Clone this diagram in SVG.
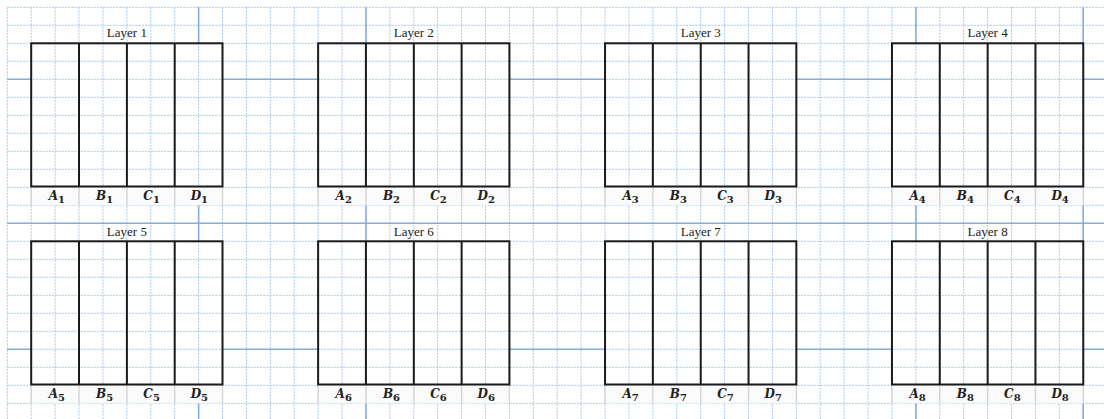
<svg xmlns="http://www.w3.org/2000/svg" width="1104" height="419" viewBox="0 0 1104 419">
<style>
.minor{fill:none;stroke:#a3c7ed;stroke-width:1;stroke-dasharray:2 1.2}
.major{fill:none;stroke:#86aedc;stroke-width:1.6}
.band{fill:#fbfbfb;stroke:none}
.bandsep{fill:none;stroke:#d6d6d6;stroke-width:1.5}
.box{fill:none;stroke:#1a1a1a;stroke-width:2}
.div{fill:none;stroke:#1a1a1a;stroke-width:2}
.title{font-family:"Liberation Serif",serif;font-size:13px;fill:#222;text-anchor:middle}
.lab{font-family:"DejaVu Serif","Liberation Serif",serif;font-size:12px;font-weight:bold;font-style:italic;fill:#222;text-anchor:middle}
.sub{font-size:10px;font-style:normal}
</style>
<rect x="0" y="0" width="1104" height="419" fill="#ffffff"/>
<g id="grid">
<path class="minor" d="M7.3 7.3V419M31.2 7.3V419M55.1 7.3V419M79 7.3V419M103 7.3V419M126.9 7.3V419M150.8 7.3V419M174.7 7.3V419M198.6 7.3V419M222.5 7.3V419M246.4 7.3V419M270.3 7.3V419M294.2 7.3V419M318.1 7.3V419M342 7.3V419M366 7.3V419M389.9 7.3V419M413.8 7.3V419M437.7 7.3V419M461.6 7.3V419M485.5 7.3V419M509.4 7.3V419M533.3 7.3V419M557.2 7.3V419M581.1 7.3V419M605.1 7.3V419M629 7.3V419M652.9 7.3V419M676.8 7.3V419M700.7 7.3V419M724.6 7.3V419M748.5 7.3V419M772.4 7.3V419M796.3 7.3V419M820.2 7.3V419M844.1 7.3V419M868.1 7.3V419M892 7.3V419M915.9 7.3V419M939.8 7.3V419M963.7 7.3V419M987.6 7.3V419M1011.5 7.3V419M1035.4 7.3V419M1059.3 7.3V419M1083.2 7.3V419"/>
<path class="minor" d="M7.3 7.3H1104M7.3 25.3H1104M7.3 43.3H1104M7.3 61.3H1104M7.3 79.3H1104M7.3 97.3H1104M7.3 115.3H1104M7.3 133.3H1104M7.3 151.3H1104M7.3 169.3H1104M7.3 187.3H1104M7.3 205.3H1104M7.3 223.3H1104M7.3 241.3H1104M7.3 259.3H1104M7.3 277.3H1104M7.3 295.3H1104M7.3 313.3H1104M7.3 331.3H1104M7.3 349.3H1104M7.3 367.3H1104M7.3 385.3H1104M7.3 403.3H1104"/>
<path class="major" d="M7.3 79.3H31.2M222.5 79.3H318.1M509.4 79.3H605.1M796.3 79.3H892M1083.2 79.3H1104M7.3 223.3H1104M7.3 349.3H31.2M222.5 349.3H318.1M509.4 349.3H605.1M796.3 349.3H892M1083.2 349.3H1104"/>
<path class="major" d="M198.6 7.3V43.3M198.6 205.3V241.3M198.6 403.3V419M366 7.3V43.3M366 205.3V241.3M366 403.3V419M915.9 7.3V43.3M915.9 205.3V241.3M915.9 403.3V419M1083.2 7.3V43.3M1083.2 205.3V241.3M1083.2 403.3V419"/>
</g>
<g id="layer1">
<rect class="band" x="31.2" y="187.5" width="191.3" height="17.8"/>
<path class="bandsep" d="M31.2 187.5V205.3M79 187.5V205.3M126.9 187.5V205.3M174.7 187.5V205.3M222.5 187.5V205.3"/>
<rect class="box" x="31.2" y="43.3" width="191.3" height="143.2"/>
<path class="div" d="M79 43.3V186.5M126.9 43.3V186.5M174.7 43.3V186.5"/>
<text class="title" x="126.9" y="37">Layer 1</text>
<text class="lab" x="56.8" y="199.8">A<tspan class="sub" dy="2.8">1</tspan></text>
<text class="lab" x="104.6" y="199.8">B<tspan class="sub" dy="2.8">1</tspan></text>
<text class="lab" x="151.6" y="199.8">C<tspan class="sub" dy="2.8">1</tspan></text>
<text class="lab" x="199.4" y="199.8">D<tspan class="sub" dy="2.8">1</tspan></text>
</g>
<g id="layer2" transform="translate(286.92,0)">
<rect class="band" x="31.2" y="187.5" width="191.3" height="17.8"/>
<path class="bandsep" d="M31.2 187.5V205.3M79 187.5V205.3M126.9 187.5V205.3M174.7 187.5V205.3M222.5 187.5V205.3"/>
<rect class="box" x="31.2" y="43.3" width="191.3" height="143.2"/>
<path class="div" d="M79 43.3V186.5M126.9 43.3V186.5M174.7 43.3V186.5"/>
<text class="title" x="126.9" y="37">Layer 2</text>
<text class="lab" x="56.8" y="199.8">A<tspan class="sub" dy="2.8">2</tspan></text>
<text class="lab" x="104.6" y="199.8">B<tspan class="sub" dy="2.8">2</tspan></text>
<text class="lab" x="151.6" y="199.8">C<tspan class="sub" dy="2.8">2</tspan></text>
<text class="lab" x="199.4" y="199.8">D<tspan class="sub" dy="2.8">2</tspan></text>
</g>
<g id="layer3" transform="translate(573.84,0)">
<rect class="band" x="31.2" y="187.5" width="191.3" height="17.8"/>
<path class="bandsep" d="M31.2 187.5V205.3M79 187.5V205.3M126.9 187.5V205.3M174.7 187.5V205.3M222.5 187.5V205.3"/>
<rect class="box" x="31.2" y="43.3" width="191.3" height="143.2"/>
<path class="div" d="M79 43.3V186.5M126.9 43.3V186.5M174.7 43.3V186.5"/>
<text class="title" x="126.9" y="37">Layer 3</text>
<text class="lab" x="56.8" y="199.8">A<tspan class="sub" dy="2.8">3</tspan></text>
<text class="lab" x="104.6" y="199.8">B<tspan class="sub" dy="2.8">3</tspan></text>
<text class="lab" x="151.6" y="199.8">C<tspan class="sub" dy="2.8">3</tspan></text>
<text class="lab" x="199.4" y="199.8">D<tspan class="sub" dy="2.8">3</tspan></text>
</g>
<g id="layer4" transform="translate(860.76,0)">
<rect class="band" x="31.2" y="187.5" width="191.3" height="17.8"/>
<path class="bandsep" d="M31.2 187.5V205.3M79 187.5V205.3M126.9 187.5V205.3M174.7 187.5V205.3M222.5 187.5V205.3"/>
<rect class="box" x="31.2" y="43.3" width="191.3" height="143.2"/>
<path class="div" d="M79 43.3V186.5M126.9 43.3V186.5M174.7 43.3V186.5"/>
<text class="title" x="126.9" y="37">Layer 4</text>
<text class="lab" x="56.8" y="199.8">A<tspan class="sub" dy="2.8">4</tspan></text>
<text class="lab" x="104.6" y="199.8">B<tspan class="sub" dy="2.8">4</tspan></text>
<text class="lab" x="151.6" y="199.8">C<tspan class="sub" dy="2.8">4</tspan></text>
<text class="lab" x="199.4" y="199.8">D<tspan class="sub" dy="2.8">4</tspan></text>
</g>
<g id="layer5" transform="translate(0,198)">
<rect class="band" x="31.2" y="187.5" width="191.3" height="17.8"/>
<path class="bandsep" d="M31.2 187.5V205.3M79 187.5V205.3M126.9 187.5V205.3M174.7 187.5V205.3M222.5 187.5V205.3"/>
<rect class="box" x="31.2" y="43.3" width="191.3" height="143.2"/>
<path class="div" d="M79 43.3V186.5M126.9 43.3V186.5M174.7 43.3V186.5"/>
<text class="title" x="126.9" y="37.5">Layer 5</text>
<text class="lab" x="56.8" y="199.8">A<tspan class="sub" dy="2.8">5</tspan></text>
<text class="lab" x="104.6" y="199.8">B<tspan class="sub" dy="2.8">5</tspan></text>
<text class="lab" x="151.6" y="199.8">C<tspan class="sub" dy="2.8">5</tspan></text>
<text class="lab" x="199.4" y="199.8">D<tspan class="sub" dy="2.8">5</tspan></text>
</g>
<g id="layer6" transform="translate(286.92,198)">
<rect class="band" x="31.2" y="187.5" width="191.3" height="17.8"/>
<path class="bandsep" d="M31.2 187.5V205.3M79 187.5V205.3M126.9 187.5V205.3M174.7 187.5V205.3M222.5 187.5V205.3"/>
<rect class="box" x="31.2" y="43.3" width="191.3" height="143.2"/>
<path class="div" d="M79 43.3V186.5M126.9 43.3V186.5M174.7 43.3V186.5"/>
<text class="title" x="126.9" y="37.5">Layer 6</text>
<text class="lab" x="56.8" y="199.8">A<tspan class="sub" dy="2.8">6</tspan></text>
<text class="lab" x="104.6" y="199.8">B<tspan class="sub" dy="2.8">6</tspan></text>
<text class="lab" x="151.6" y="199.8">C<tspan class="sub" dy="2.8">6</tspan></text>
<text class="lab" x="199.4" y="199.8">D<tspan class="sub" dy="2.8">6</tspan></text>
</g>
<g id="layer7" transform="translate(573.84,198)">
<rect class="band" x="31.2" y="187.5" width="191.3" height="17.8"/>
<path class="bandsep" d="M31.2 187.5V205.3M79 187.5V205.3M126.9 187.5V205.3M174.7 187.5V205.3M222.5 187.5V205.3"/>
<rect class="box" x="31.2" y="43.3" width="191.3" height="143.2"/>
<path class="div" d="M79 43.3V186.5M126.9 43.3V186.5M174.7 43.3V186.5"/>
<text class="title" x="126.9" y="37.5">Layer 7</text>
<text class="lab" x="56.8" y="199.8">A<tspan class="sub" dy="2.8">7</tspan></text>
<text class="lab" x="104.6" y="199.8">B<tspan class="sub" dy="2.8">7</tspan></text>
<text class="lab" x="151.6" y="199.8">C<tspan class="sub" dy="2.8">7</tspan></text>
<text class="lab" x="199.4" y="199.8">D<tspan class="sub" dy="2.8">7</tspan></text>
</g>
<g id="layer8" transform="translate(860.76,198)">
<rect class="band" x="31.2" y="187.5" width="191.3" height="17.8"/>
<path class="bandsep" d="M31.2 187.5V205.3M79 187.5V205.3M126.9 187.5V205.3M174.7 187.5V205.3M222.5 187.5V205.3"/>
<rect class="box" x="31.2" y="43.3" width="191.3" height="143.2"/>
<path class="div" d="M79 43.3V186.5M126.9 43.3V186.5M174.7 43.3V186.5"/>
<text class="title" x="126.9" y="37.5">Layer 8</text>
<text class="lab" x="56.8" y="199.8">A<tspan class="sub" dy="2.8">8</tspan></text>
<text class="lab" x="104.6" y="199.8">B<tspan class="sub" dy="2.8">8</tspan></text>
<text class="lab" x="151.6" y="199.8">C<tspan class="sub" dy="2.8">8</tspan></text>
<text class="lab" x="199.4" y="199.8">D<tspan class="sub" dy="2.8">8</tspan></text>
</g>
</svg>
